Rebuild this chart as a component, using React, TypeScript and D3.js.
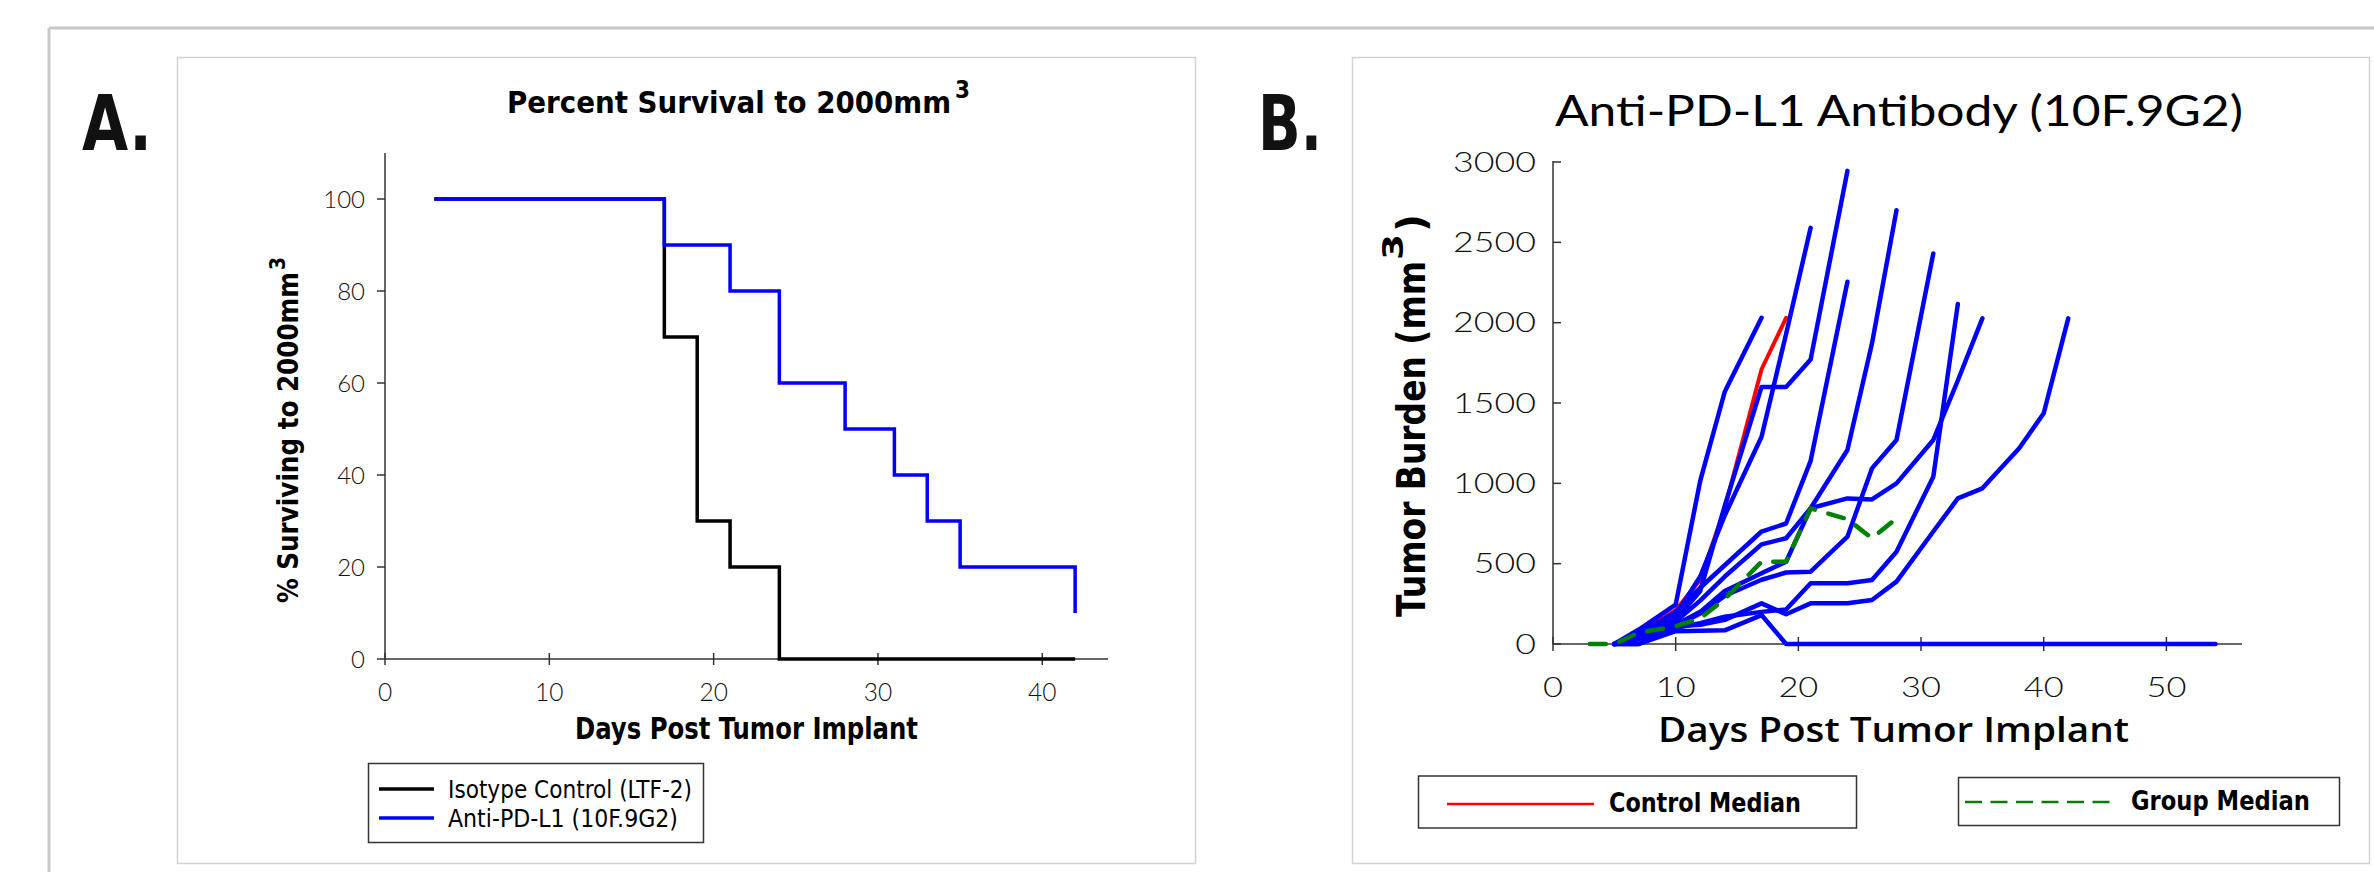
import React from "react";
import * as d3 from "d3";

// ---------- Panel A data (Kaplan-Meier style survival) ----------
const isotypeDays = [3, 17, 19, 21, 24, 42];
const isotypeSurvival = [100, 70, 30, 20, 0, 0];
const antiDays = [3, 17, 21, 24, 28, 31, 33, 35, 42];
const antiSurvival = [100, 90, 80, 60, 50, 40, 30, 20, 10];
const survYTicks = [0, 20, 40, 60, 80, 100];
const survXTicks = [0, 10, 20, 30, 40];

// ---------- Panel B data (individual tumor growth) ----------
const tumorDays = [5, 7, 10, 12, 14, 17, 19, 21, 24, 26, 28, 31, 33, 35, 38, 40, 42, 45, 47, 49, 52, 54];
const mouse1 = [0, 90, 245, 1015, 1570, 2030];
const mouse2 = [0, 80, 180, 420, 800, 1290, 1930, 2590];
const mouse3 = [0, 70, 150, 330, 860, 1600, 1600, 1770, 2945];
const mouse4 = [0, 60, 200, 350, 490, 700, 750, 1140, 2255];
const mouse5 = [0, 50, 140, 270, 420, 620, 658, 845, 1207, 1870, 2700];
const mouse6 = [0, 40, 110, 190, 300, 400, 445, 450, 668, 1093, 1270, 2431];
const mouse7 = [0, 30, 100, 130, 170, 200, 215, 378, 378, 398, 574, 1041, 2116];
const mouse8 = [0, 50, 120, 200, 330, 440, 512, 845, 906, 900, 1000, 1270, 1640, 2027];
const mouse9 = [0, 0, 110, 120, 150, 253, 185, 253, 253, 274, 388, 700, 906, 969, 1218, 1436, 2027];
const mouse10 = [0, 0, 80, 82, 85, 180, 0, 0, 0, 0, 0, 0, 0, 0, 0, 0, 0, 0, 0, 0, 0, 0];
const mice = [mouse1, mouse2, mouse3, mouse4, mouse5, mouse6, mouse7, mouse8, mouse9, mouse10];

const controlMedianDays = [5, 7, 10, 12, 14, 17, 19];
const controlMedian = [0, 70, 210, 400, 845, 1710, 2030];
const groupMedianDays = [3, 5, 7, 10, 12, 14, 17, 19, 21, 24, 26, 28];
const groupMedian = [0, 0, 70, 110, 160, 280, 512, 512, 844, 777, 658, 782];
const tumorYTicks = [0, 500, 1000, 1500, 2000, 2500, 3000];
const tumorXTicks = [0, 10, 20, 30, 40, 50];

const NARROW = "'Liberation Sans Narrow', 'DejaVu Sans Condensed', 'Liberation Sans', sans-serif";
const LIGHT = "Lato, 'Open Sans', sans-serif";
const GEO = "'DejaVu Sans', Lato, sans-serif";

type Pt = [number, number];

export default function App() {
  // Panel A scales
  const ax = d3.scaleLinear().domain([0, 44]).range([385, 1108]);
  const ay = d3.scaleLinear().domain([0, 110]).range([659, 153]);
  const stepLine = d3
    .line<Pt>()
    .x((d) => ax(d[0]))
    .y((d) => ay(d[1]))
    .curve(d3.curveStepAfter);
  const isoPts: Pt[] = isotypeDays.map((d, i) => [d, isotypeSurvival[i]]);
  const antiPts: Pt[] = antiDays.map((d, i) => [d, antiSurvival[i]]);

  // Panel B scales
  const bx = d3.scaleLinear().domain([0, 56]).range([1553, 2240]);
  const by = d3.scaleLinear().domain([0, 3000]).range([644, 162]);
  const tLine = d3
    .line<Pt>()
    .x((d) => bx(d[0]))
    .y((d) => by(d[1]));
  const mousePts = mice.map((vals) => vals.map((v, i) => [tumorDays[i], v] as Pt));
  const ctrlPts: Pt[] = controlMedianDays.map((d, i) => [d, controlMedian[i]]);
  const grpPts: Pt[] = groupMedianDays.map((d, i) => [d, groupMedian[i]]);

  const axisColor = "#333";

  return (
    <svg
      width={2374}
      height={872}
      style={{ position: "absolute", left: 0, top: 0, background: "#fff" }}
    >
      <rect x={0} y={0} width={2374} height={872} fill="#fff" />
      {/* outer frame */}
      <line x1={49} y1={28} x2={2374} y2={28} stroke="#c8c8c8" strokeWidth={3} />
      <line x1={49} y1={28} x2={49} y2={872} stroke="#c8c8c8" strokeWidth={3} />
      {/* panel boxes */}
      <rect x={177.5} y={57.5} width={1018} height={806} fill="#fff" stroke="#d2d2d2" strokeWidth={1.5} />
      <rect x={1352.5} y={57.5} width={1017} height={806} fill="#fff" stroke="#d2d2d2" strokeWidth={1.5} />

      {/* Panel letters */}
      <text x={82} y={150} fontFamily={NARROW} fontWeight="bold" fontSize={77} textLength={70} lengthAdjust="spacingAndGlyphs" fill="#111">A.</text>
      <text x={1258} y={150} fontFamily={NARROW} fontWeight="bold" fontSize={77} textLength={64} lengthAdjust="spacingAndGlyphs" fill="#111">B.</text>

      {/* ================= Panel A ================= */}
      <text x={507} y={113} fontFamily={NARROW} fontWeight="bold" fontSize={31} textLength={444} lengthAdjust="spacingAndGlyphs" fill="#000">Percent Survival to 2000mm</text>
      <text x={955} y={98} fontFamily={NARROW} fontWeight="bold" fontSize={24} textLength={15} lengthAdjust="spacingAndGlyphs" fill="#000">3</text>

      {/* axes */}
      <line x1={385} y1={153} x2={385} y2={659} stroke={axisColor} strokeWidth={1.5} />
      <line x1={385} y1={659} x2={1108} y2={659} stroke={axisColor} strokeWidth={1.5} />
      {survYTicks.map((t) => (
        <g key={"ayt" + t}>
          <line x1={377} x2={385} y1={ay(t)} y2={ay(t)} stroke={axisColor} strokeWidth={1.5} />
          <text x={365} y={ay(t) + 8.5} textAnchor="end" fontFamily={LIGHT} fontWeight={300} fontSize={24} fill="#111">{t}</text>
        </g>
      ))}
      {survXTicks.map((t) => (
        <g key={"axt" + t}>
          <line x1={ax(t)} x2={ax(t)} y1={653} y2={665} stroke={axisColor} strokeWidth={1.5} />
          <text x={ax(t)} y={701} textAnchor="middle" fontFamily={LIGHT} fontWeight={300} fontSize={24.5} fill="#111">{t}</text>
        </g>
      ))}
      <text x={575} y={739} fontFamily={NARROW} fontWeight="bold" fontSize={30} textLength={343} lengthAdjust="spacingAndGlyphs" fill="#000">Days Post Tumor Implant</text>
      <g transform="translate(298,603) rotate(-90)">
        <text x={0} y={0} fontFamily={GEO} fontWeight="bold" fontSize={29} textLength={331} lengthAdjust="spacingAndGlyphs" fill="#000">% Surviving to 2000mm</text>
        <text x={333} y={-13} fontFamily={GEO} fontWeight="bold" fontSize={21} textLength={13} lengthAdjust="spacingAndGlyphs" fill="#000">3</text>
      </g>

      {/* survival curves */}
      <path d={stepLine(isoPts) || ""} fill="none" stroke="#000" strokeWidth={3.5} />
      <path d={stepLine(antiPts) || ""} fill="none" stroke="#0000ff" strokeWidth={3.5} />

      {/* legend A */}
      <rect x={368.5} y={763.5} width={335} height={79} fill="#fff" stroke="#333" strokeWidth={1.5} />
      <line x1={379} x2={434} y1={789} y2={789} stroke="#000" strokeWidth={3.5} />
      <line x1={379} x2={434} y1={818} y2={818} stroke="#0000ff" strokeWidth={3.5} />
      <text x={448} y={798} fontFamily={NARROW} fontSize={25} textLength={244} lengthAdjust="spacingAndGlyphs" fill="#000">Isotype Control (LTF-2)</text>
      <text x={448} y={827} fontFamily={NARROW} fontSize={25} textLength={230} lengthAdjust="spacingAndGlyphs" fill="#000">Anti-PD-L1 (10F.9G2)</text>

      {/* ================= Panel B ================= */}
      <text x={1555} y={126} fontFamily={LIGHT} fontSize={43} textLength={688} lengthAdjust="spacingAndGlyphs" fill="#000">Anti-PD-L1 Antibody (10F.9G2)</text>

      <line x1={1553} y1={161} x2={1553} y2={644} stroke={axisColor} strokeWidth={1.5} />
      <line x1={1553} y1={644} x2={2242} y2={644} stroke={axisColor} strokeWidth={1.5} />
      {tumorYTicks.map((t) => (
        <g key={"byt" + t}>
          <line x1={1553} x2={1561} y1={by(t)} y2={by(t)} stroke={axisColor} strokeWidth={1.5} />
          <g transform={`translate(1536,${by(t) + 9.5}) scale(1.35,1)`}>
            <text x={0} y={0} textAnchor="end" fontFamily={LIGHT} fontWeight={300} fontSize={26.5} fill="#111">{t}</text>
          </g>
        </g>
      ))}
      {tumorXTicks.map((t) => (
        <g key={"bxt" + t}>
          <line x1={bx(t)} x2={bx(t)} y1={637} y2={651} stroke={axisColor} strokeWidth={1.5} />
          <g transform={`translate(${bx(t)},697) scale(1.3,1)`}>
            <text x={0} y={0} textAnchor="middle" fontFamily={LIGHT} fontWeight={300} fontSize={26.5} fill="#111">{t}</text>
          </g>
        </g>
      ))}
      <text x={1658} y={742} fontFamily="'Open Sans', Lato, sans-serif" fontWeight={600} fontSize={34} textLength={471} lengthAdjust="spacingAndGlyphs" fill="#000">Days Post Tumor Implant</text>
      <g transform="translate(1425,617) rotate(-90)">
        <text x={0} y={0} fontFamily={GEO} fontWeight="bold" fontSize={39} textLength={356} lengthAdjust="spacingAndGlyphs" fill="#000">Tumor Burden (mm</text>
        <text x={357} y={-22} fontFamily={GEO} fontWeight="bold" fontSize={28} textLength={26} lengthAdjust="spacingAndGlyphs" fill="#000">3</text>
        <text x={385} y={0} fontFamily={GEO} fontWeight="bold" fontSize={39} textLength={18} lengthAdjust="spacingAndGlyphs" fill="#000">)</text>
      </g>

      {/* tumor curves */}
      <path d={tLine(ctrlPts) || ""} fill="none" stroke="#ff0000" strokeWidth={4} strokeLinejoin="round" strokeLinecap="round" />
      {mousePts.map((pts, i) => (
        <path key={"m" + i} d={tLine(pts) || ""} fill="none" stroke="#0000ff" strokeWidth={4.5} strokeLinejoin="round" strokeLinecap="round" />
      ))}
      <path d={tLine(grpPts) || ""} fill="none" stroke="#008000" strokeWidth={4.5} strokeDasharray="16 14" strokeLinecap="round" strokeLinejoin="round" />

      {/* legend B */}
      <rect x={1418.5} y={776} width={438} height={52} fill="#fff" stroke="#333" strokeWidth={1.5} />
      <line x1={1447} x2={1594} y1={804} y2={804} stroke="#ff0000" strokeWidth={2.5} />
      <text x={1609} y={812} fontFamily={NARROW} fontWeight="bold" fontSize={26} textLength={192} lengthAdjust="spacingAndGlyphs" fill="#000">Control Median</text>
      <rect x={1958.5} y={777.5} width={381} height={48} fill="#fff" stroke="#333" strokeWidth={1.5} />
      <line x1={1965} x2={2112} y1={802} y2={802} stroke="#008000" strokeWidth={2.5} strokeDasharray="17 8.5" />
      <text x={2131} y={810} fontFamily={NARROW} fontWeight="bold" fontSize={26} textLength={179} lengthAdjust="spacingAndGlyphs" fill="#000">Group Median</text>
    </svg>
  );
}
